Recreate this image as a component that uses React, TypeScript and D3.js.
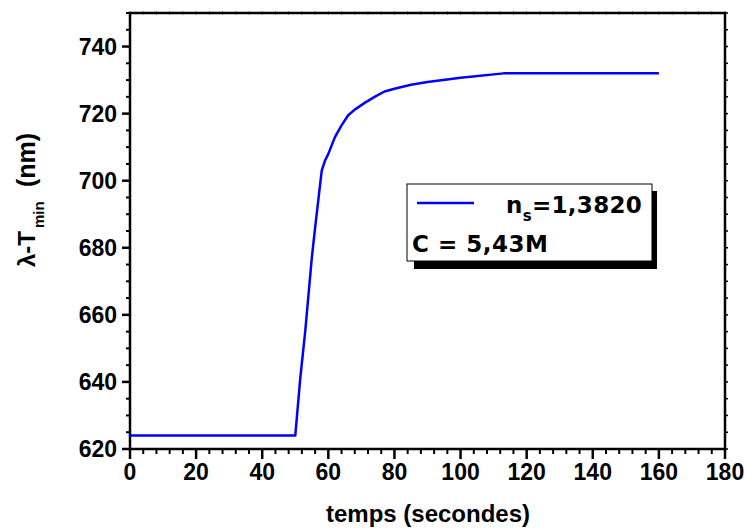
import React from "react";
import * as d3 from "d3";

const timeValues = [0, 50, 51.5, 53, 55, 56, 58, 59, 60, 62, 64, 66, 68, 71, 74, 77, 80, 85, 90, 100, 113, 160];
const lambdaValues = [624, 624, 641, 655, 677, 686, 703, 706, 708, 713, 716.5, 719.5, 721.2, 723.2, 725, 726.6, 727.4, 728.6, 729.4, 730.7, 732, 732];
const xTicks = [0, 20, 40, 60, 80, 100, 120, 140, 160, 180];
const yTicks = [620, 640, 660, 680, 700, 720, 740];
const xLabel = "temps (secondes)";
const legendSeries = "1,3820";
const legendNote = "C = 5,43M";

const W = 746, H = 528;
const L = 130, R = 725, T = 13, B = 449;

export default function App() {
  const x = d3.scaleLinear().domain([0, 180]).range([L, R]);
  const y = d3.scaleLinear().domain([620, 750]).range([B, T]);
  const data = timeValues.map((t, i) => [t, lambdaValues[i]] as [number, number]);
  const line = d3.line<[number, number]>().x(d => x(d[0])).y(d => y(d[1]));
  const xMinor = d3.range(0, 181, 4).filter(v => v % 20 !== 0);
  const yMinor = d3.range(620, 751, 5).filter(v => v % 20 !== 0);
  const xAllMinor = d3.range(0, 181, 4);
  const yAll = d3.range(620, 751, 5);
  const tickFont = { fontFamily: "'Liberation Sans', Arial, sans-serif", fontWeight: 700, fontSize: 23 } as const;
  const legFont = { fontFamily: "'DejaVu Sans', Verdana, sans-serif", fontWeight: 700 } as const;
  return (
    <svg width={W} height={H} style={{ position: "absolute", left: 0, top: 0, background: "#fff" }}>
      {xAllMinor.map(v => (
        <line key={"tt" + v} x1={x(v)} x2={x(v)} y1={T - 2} y2={T + 2} stroke="#999" strokeWidth={1} />
      ))}
      {yAll.map(v => (
        <line key={"rt" + v} x1={R} x2={R + 3} y1={y(v)} y2={y(v)} stroke="#000" strokeWidth={1.5} />
      ))}
      <rect x={L} y={T} width={R - L} height={B - T} fill="none" stroke="#000" strokeWidth={2.5} />
      {xTicks.map(v => (
        <line key={"bx" + v} x1={x(v)} x2={x(v)} y1={B} y2={B + 10} stroke="#000" strokeWidth={2.5} />
      ))}
      {xMinor.map(v => (
        <line key={"bm" + v} x1={x(v)} x2={x(v)} y1={B} y2={B + 5} stroke="#000" strokeWidth={2} />
      ))}
      {yTicks.map(v => (
        <line key={"ly" + v} x1={L - 8} x2={L} y1={y(v)} y2={y(v)} stroke="#000" strokeWidth={2.5} />
      ))}
      {yMinor.map(v => (
        <line key={"lm" + v} x1={L - 4} x2={L} y1={y(v)} y2={y(v)} stroke="#000" strokeWidth={2} />
      ))}
      {xTicks.map(v => (
        <text key={"xl" + v} x={x(v)} y={B + 31} textAnchor="middle" {...tickFont}>{v}</text>
      ))}
      {yTicks.map(v => (
        <text key={"yl" + v} x={L - 13} y={y(v)} dy="0.36em" textAnchor="end" {...tickFont}>{v}</text>
      ))}
      <text x={428} y={522} textAnchor="middle" {...tickFont} fontSize={24}>{xLabel}</text>
      <g transform="translate(35,267) rotate(-90)">
        <text x={0} y={0} {...tickFont} fontSize={24}>λ-T</text>
        <text x={39} y={9} {...tickFont} fontSize={15}>min</text>
        <text x={80} y={0} {...tickFont} fontSize={25}>(nm)</text>
      </g>
      <path d={line(data) || ""} fill="none" stroke="#0000ff" strokeWidth={2.5} strokeLinejoin="round" />
      <rect x={414} y={191} width={243} height={78} fill="#000" />
      <rect x={407} y={184} width={245} height={77} fill="#fff" stroke="#000" strokeWidth={1} />
      <line x1={417} x2={474} y1={203} y2={203} stroke="#0000ff" strokeWidth={2.5} />
      <text x={506} y={213} {...legFont} fontSize={23} letterSpacing={0.3}>
        <tspan>n</tspan>
        <tspan fontSize={15} dy={8}>s</tspan>
        <tspan dy={-8}>{"=" + legendSeries}</tspan>
      </text>
      <text x={412} y={252} {...legFont} fontSize={23} letterSpacing={0.5}>{legendNote}</text>
    </svg>
  );
}
